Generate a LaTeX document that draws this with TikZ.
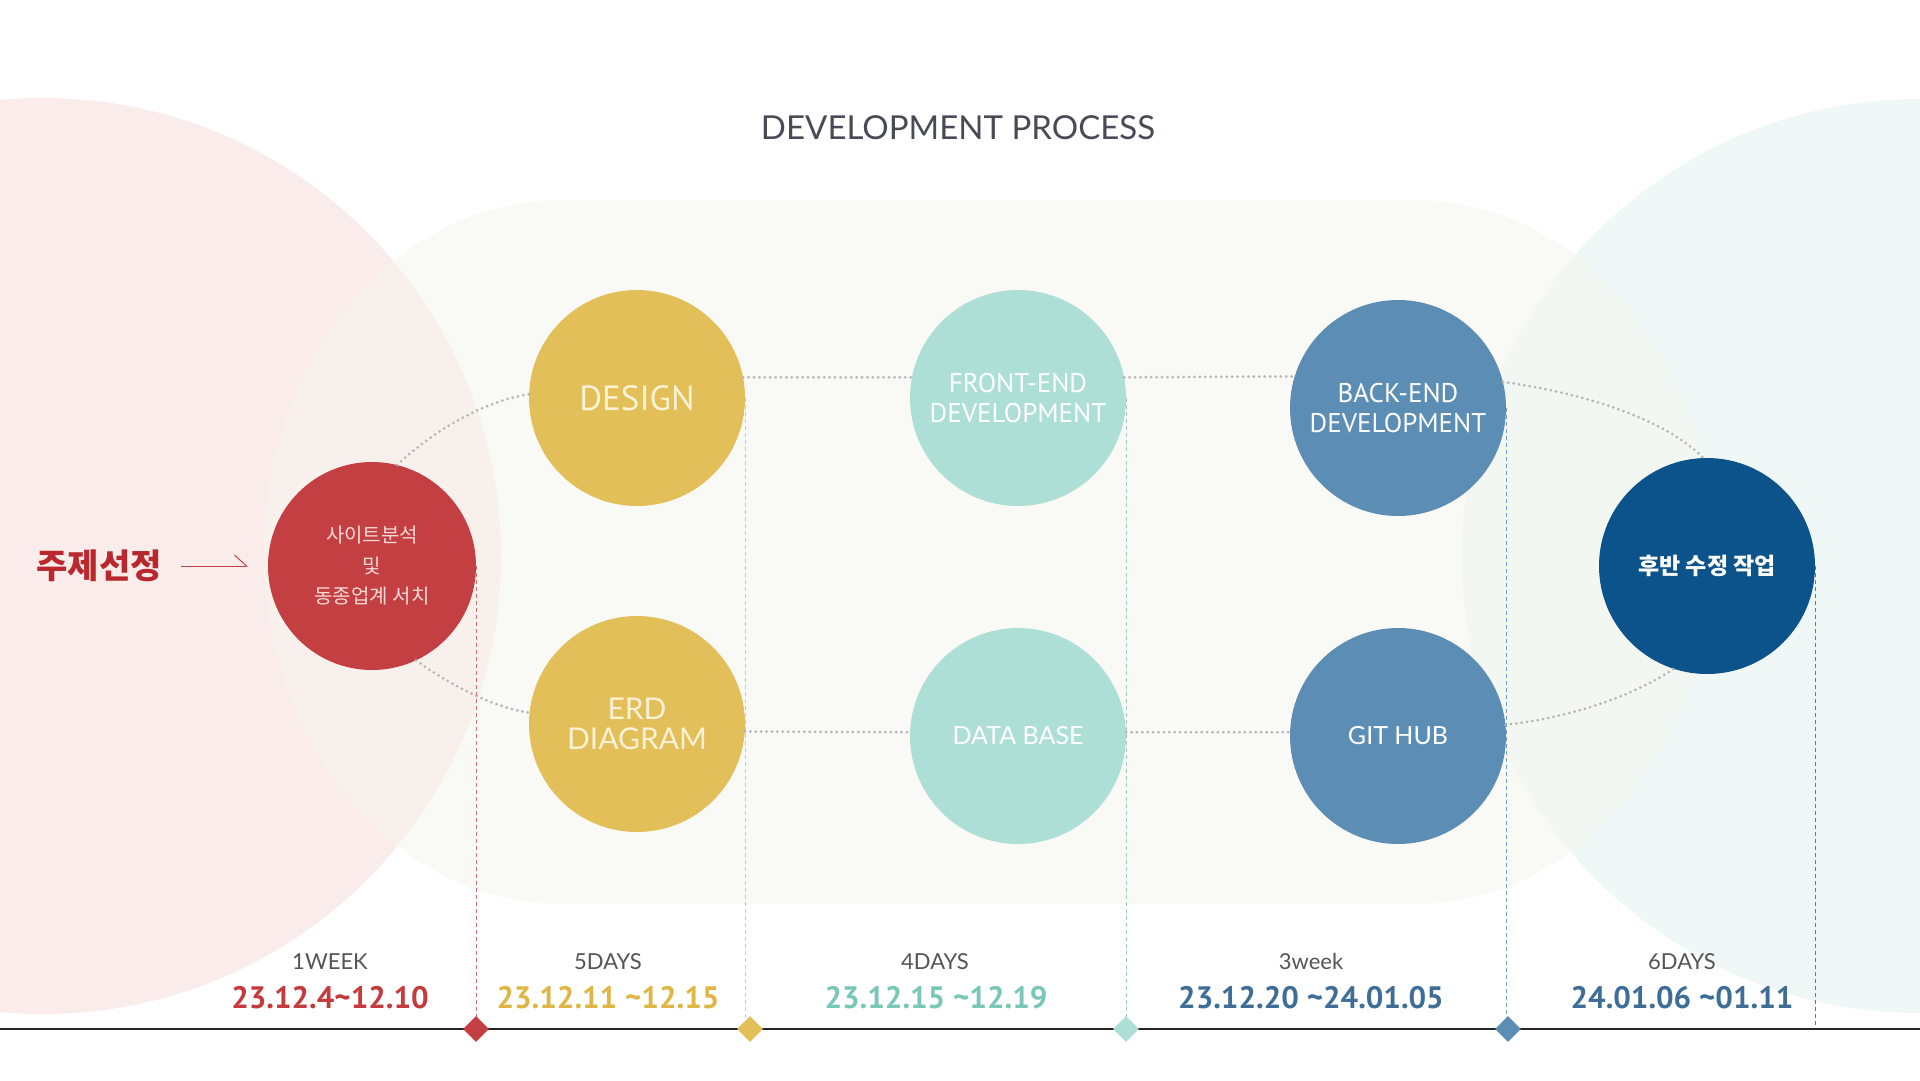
\documentclass[tikz,border=0pt]{standalone}
\usepackage{fontspec}
\setmainfont{Lato}
\newfontfamily\krfont{Noto Sans CJK KR}
\newfontfamily\ptfont{PT Sans}
\newfontfamily\latofont{Lato}
\usetikzlibrary{shapes.geometric,arrows.meta}

\definecolor{bgpink}{HTML}{FAECEB}
\definecolor{bgpinkmix}{HTML}{F8F0EC}
\definecolor{bgbeige}{HTML}{F9FAF5}
\definecolor{bgcyan}{HTML}{EFF8F7}
\definecolor{bgcyanmix}{HTML}{F2F7F2}
\definecolor{cred}{HTML}{C43F41}
\definecolor{cyellow}{HTML}{E2BF58}
\definecolor{cmint}{HTML}{AEDFD7}
\definecolor{cblue}{HTML}{5B8DB5}
\definecolor{cnavy}{HTML}{0B538A}
\definecolor{dotgray}{HTML}{B4B4B4}
\definecolor{labgray}{HTML}{555555}
\definecolor{titlegray}{HTML}{474B55}
\definecolor{topicred}{HTML}{B8282C}
\definecolor{cream}{HTML}{FBF1D5}
\definecolor{pinktext}{HTML}{F6DAD7}
\definecolor{dred}{HTML}{C43A3D}
\definecolor{dyellow}{HTML}{DFB645}
\definecolor{dmint}{HTML}{78C7B7}
\definecolor{dblue}{HTML}{3E6E98}

\tikzset{
  bubble/.style={circle, minimum size=216pt, inner sep=0pt, align=center, text=white},
  ringdots/.style={dotgray, line width=3pt, line cap=round, dash pattern=on 0pt off 5.4pt},
  guide/.style={line width=0.9pt, dash pattern=on 4pt off 3pt},
  marker/.style={diamond, minimum width=26pt, minimum height=26pt, inner sep=0pt},
  durlab/.style={anchor=base, text=labgray, font=\latofont\fontsize{22}{22}\selectfont},
  datelab/.style={anchor=base, font=\ptfont\bfseries\fontsize{31}{31}\selectfont},
}

\begin{document}
\begin{tikzpicture}[x=1pt,y=-1pt]
\useasboundingbox (0,0) rectangle (1920,1080);
\clip (0,0) rectangle (1920,1080);
\fill[white] (0,0) rectangle (1920,1080);

% background shapes
\fill[bgpink] (43,556) circle (458pt);
\fill[bgcyan] (1919,556) circle (457pt);
\fill[bgbeige] (561,200) -- (1415,200)
   arc[start angle=90,end angle=-90,x radius=297pt,y radius=352pt]
   -- (561,904)
   arc[start angle=-90,end angle=-270,x radius=297pt,y radius=352pt] -- cycle;
\begin{scope}
  \clip (561,200) -- (1415,200)
   arc[start angle=90,end angle=-90,x radius=297pt,y radius=352pt]
   -- (561,904)
   arc[start angle=-90,end angle=-270,x radius=297pt,y radius=352pt] -- cycle;
  \fill[bgpinkmix] (43,556) circle (458pt);
  \fill[bgcyanmix] (1919,556) circle (457pt);
\end{scope}

% title
\node[font=\latofont\fontsize{33}{33}\selectfont, text=titlegray] (title) at (958,128) {DEVELOPMENT PROCESS};

% bubbles
\node[bubble, minimum size=208pt, fill=cred, text=pinktext, font=\krfont\fontsize{20}{30.5}\selectfont] (site) at (372,566) {사이트분석\\및\\동종업계 서치};
\node[bubble, fill=cyellow, text=cream, font=\ptfont\fontsize{35}{35}\selectfont] (design) at (637,398) {DESIGN};
\node[bubble, fill=cyellow, text=cream, font=\latofont\fontsize{30}{30}\selectfont] (erd) at (637,724) {ERD\\DIAGRAM};
\node[bubble, fill=cmint, font=\ptfont\fontsize{27}{30}\selectfont] (front) at (1018,398) {FRONT-END\\DEVELOPMENT};
\node[bubble, fill=cmint, font=\latofont\fontsize{25}{25}\selectfont] (db) at (1018,736) {DATA BASE};
\node[bubble, fill=cblue, font=\ptfont\fontsize{27}{30}\selectfont] (back) at (1398,408) {BACK-END\\DEVELOPMENT};
\node[bubble, fill=cblue, font=\latofont\fontsize{25}{25}\selectfont] (git) at (1398,736) {GIT HUB};
\node[bubble, fill=cnavy, font=\krfont\bfseries\fontsize{23}{23}\selectfont] (after) at (1707,566) {후반 수정 작업};

% topic label and arrow
\node[font=\krfont\bfseries\fontsize{34}{34}\selectfont, text=topicred] (topic) at (99,566) {주제선정};
\draw[cred, line width=1pt, shorten <=16pt, shorten >=20pt,
  -{Straight Barb[harpoon, length=12pt, width=22pt]}] (topic) -- (site);

% dotted ring
\draw[ringdots] (site.76) .. controls (440,425) and (490,400) .. (design.178);
\draw[ringdots] (site.-65) .. controls (450,685) and (495,708) .. (erd.174);
\draw[ringdots] (design.11) -- (front.169);
\draw[ringdots] (front.11) -- (back.163);
\draw[ringdots] (erd.-4) -- (db.178);
\draw[ringdots] (db.2) -- (git.178);
\draw[ringdots] (back.14) .. controls (1575,392) and (1660,415) .. (after.92);
\draw[ringdots] (git.6) .. controls (1570,718) and (1635,695) .. (after.-108);

% timeline
\coordinate (tlA) at (0,1029);
\coordinate (tlB) at (1920,1029);
\draw[guide, cred!75] (site.east) -- (site.east |- tlA);
\draw[guide, cyellow!85] (design.east) -- (design.east |- tlA);
\draw[guide, cmint!90!black] (front.east) -- (front.east |- tlA);
\draw[guide, cblue!85] (back.east) -- (back.east |- tlA);
\draw[guide, cnavy!75] (after.east) -- (after.east |- tlA);
\draw[line width=1.5pt, black!85] (tlA) -- (tlB);
\node[marker, fill=cred] (m1) at (476,1029) {};
\node[marker, fill=cyellow] (m2) at (750,1029) {};
\node[marker, fill=cmint] (m3) at (1126,1029) {};
\node[marker, fill=cblue] (m4) at (1508,1029) {};

% period labels
\node[durlab] (dur1) at (330,969) {1WEEK};
\node[durlab] (dur2) at (608,969) {5DAYS};
\node[durlab] (dur3) at (935,969) {4DAYS};
\node[durlab] (dur4) at (1311,969) {3week};
\node[durlab] (dur5) at (1682,969) {6DAYS};
\node[datelab, text=dred] (date1) at (330,1008) {23.12.4\textasciitilde12.10};
\node[datelab, text=dyellow] (date2) at (608,1008) {23.12.11 \textasciitilde12.15};
\node[datelab, text=dmint] (date3) at (936,1008) {23.12.15 \textasciitilde12.19};
\node[datelab, text=dblue] (date4) at (1311,1008) {23.12.20 \textasciitilde24.01.05};
\node[datelab, text=dblue] (date5) at (1682,1008) {24.01.06 \textasciitilde01.11};
\end{tikzpicture}
\end{document}
